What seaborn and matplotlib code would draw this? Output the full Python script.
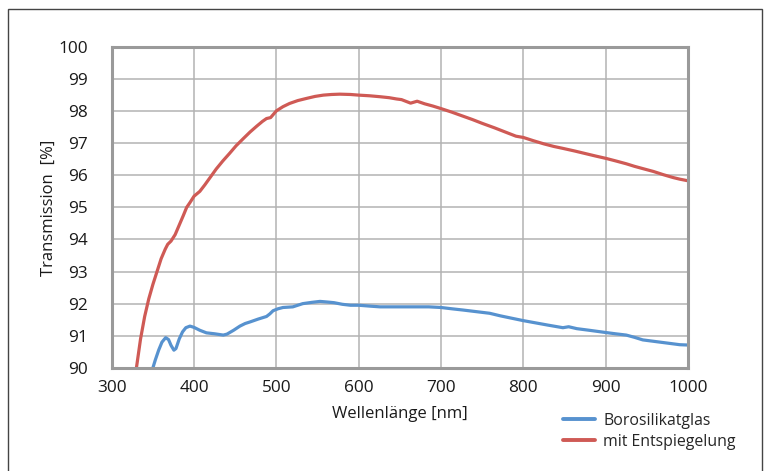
import matplotlib
matplotlib.use("Agg")
import matplotlib.pyplot as plt
import seaborn as sns
import pandas as pd
from matplotlib.patches import Rectangle
from matplotlib.lines import Line2D

# ---- data ----
red_wl = [330, 335, 340, 345, 350, 355, 360, 365, 368, 372, 377, 382, 387, 391, 395, 400,
          407, 413, 420, 427, 435, 443, 451, 460, 468, 476, 483, 488, 493, 497, 500,
          508, 516, 526, 537, 547, 557, 567, 577, 590, 600, 613, 626, 637, 646, 652,
          658, 663, 667, 671, 680, 690, 700, 713, 726, 738, 750, 765, 780, 791, 800,
          812, 825, 837, 848, 862, 875, 888, 900, 912, 925, 935, 945, 958, 970, 982,
          990, 1000]
red_val = [90.0, 90.9, 91.6, 92.15, 92.6, 93.0, 93.4, 93.7, 93.85, 93.95, 94.15, 94.45,
           94.75, 95.0, 95.15, 95.35, 95.5, 95.7, 95.95, 96.2, 96.45, 96.68, 96.92, 97.15,
           97.35, 97.53, 97.68, 97.77, 97.8, 97.92, 98.01, 98.14, 98.24, 98.33, 98.4,
           98.46, 98.5, 98.52, 98.53, 98.52, 98.5, 98.48, 98.45, 98.42, 98.38, 98.36,
           98.3, 98.25, 98.28, 98.31, 98.23, 98.16, 98.08, 97.97, 97.85, 97.74, 97.62,
           97.48, 97.33, 97.22, 97.18, 97.08, 96.98, 96.9, 96.84, 96.76, 96.68, 96.6,
           96.53, 96.45, 96.36, 96.28, 96.21, 96.12, 96.02, 95.93, 95.88, 95.83]

blue_wl = [350, 353, 357, 361, 365.5, 369, 372, 375.5, 378, 382, 386, 390, 395, 400, 407,
           415, 425, 435.5, 440, 448, 455.7, 462, 468, 478, 488, 492, 496, 502, 508, 520,
           532, 543, 553, 562, 570, 580, 590, 600, 615, 626, 640, 655, 670, 685, 700, 713,
           727, 743, 759, 772, 785, 800, 815, 830, 848, 855, 865, 880, 900, 912, 925, 935,
           945, 960, 975, 990, 1000]
blue_val = [90.0, 90.25, 90.55, 90.8, 90.94, 90.88, 90.7, 90.55, 90.6, 90.9, 91.12, 91.25,
            91.3, 91.26, 91.17, 91.09, 91.06, 91.02, 91.05, 91.17, 91.3, 91.38, 91.43,
            91.52, 91.6, 91.68, 91.78, 91.84, 91.88, 91.9, 92.0, 92.04, 92.07, 92.05,
            92.03, 91.98, 91.95, 91.95, 91.92, 91.9, 91.9, 91.9, 91.9, 91.9, 91.88, 91.84,
            91.8, 91.75, 91.7, 91.62, 91.55, 91.47, 91.4, 91.33, 91.25, 91.28, 91.22,
            91.17, 91.1, 91.06, 91.02, 90.95, 90.87, 90.82, 90.77, 90.72, 90.71]

series_names = ["Borosilikatglas", "mit Entspiegelung"]
x_ticks = [300, 400, 500, 600, 700, 800, 900, 1000]
y_ticks = [90, 91, 92, 93, 94, 95, 96, 97, 98, 99, 100]

df = pd.concat([
    pd.DataFrame({"wl": blue_wl, "T": blue_val, "series": series_names[0]}),
    pd.DataFrame({"wl": red_wl, "T": red_val, "series": series_names[1]}),
], ignore_index=True)

sns.set_theme(style="white")
plt.rcParams["font.family"] = ["Open Sans", "DejaVu Sans"]

fig = plt.figure(figsize=(7.69, 4.71), dpi=100)
ax = fig.add_axes([0.1453, 0.2191, 0.8947 - 0.1453, 0.9002 - 0.2191])

palette = {series_names[0]: "#5792cf", series_names[1]: "#cf5a55"}
sns.lineplot(data=df, x="wl", y="T", hue="series", palette=palette, ax=ax,
             linewidth=2.3, sort=False, estimator=None, legend=False)

ax.set_xlim(300, 1000)
ax.set_ylim(90, 100)
ax.set_xticks(x_ticks)
ax.set_yticks(y_ticks)
ax.set_xticklabels([str(v) for v in x_ticks], fontsize=12.4, color="#1a1a1a")
ax.set_yticklabels([str(v) for v in y_ticks], fontsize=12.4, color="#1a1a1a")
ax.tick_params(axis="x", length=0, pad=9)
ax.tick_params(axis="y", length=0, pad=17)
ax.grid(True, color="#b3b3b3", linewidth=1.1)
ax.set_axisbelow(True)
for s in ax.spines.values():
    s.set_visible(True)
    s.set_color("#9a9a9a")
    s.set_linewidth(2.2)

ax.set_xlabel("Wellenlänge [nm]", fontsize=12, color="#1a1a1a", labelpad=7)
ax.set_ylabel("Transmission  [%]", fontsize=12, color="#1a1a1a", labelpad=1)

handles = [Line2D([], [], color=palette[n], linewidth=2.8) for n in series_names]
fig.legend(handles, series_names, loc="upper left", bbox_to_anchor=(0.724, 0.137),
           frameon=False, fontsize=11.4, handlelength=2.0, handletextpad=0.55,
           labelspacing=0.3, borderaxespad=0)

# figure border (left, top, right; bottom is outside the image)
fig.add_artist(Rectangle((8 / 769, -0.05), (762 - 8) / 769, 1 - 9 / 471 + 0.05,
                         transform=fig.transFigure, fill=False,
                         edgecolor="#444444", linewidth=1.0))

fig.savefig("out.png", dpi=100, facecolor="white")
